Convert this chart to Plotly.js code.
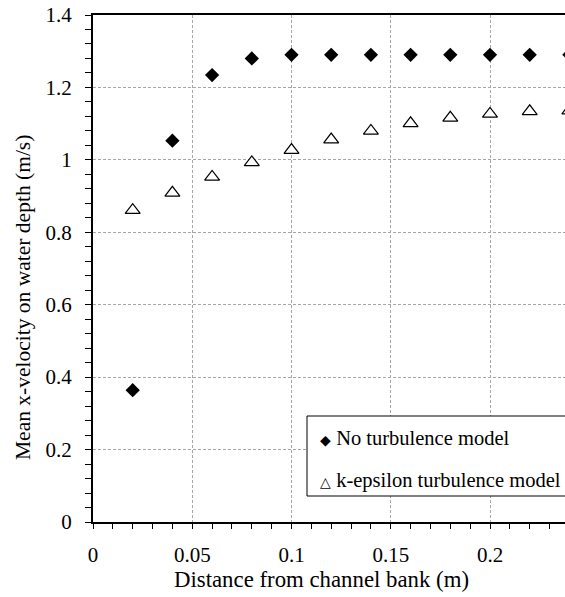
<!DOCTYPE html>
<html>
<head>
<meta charset="utf-8">
<script src="https://cdn.plot.ly/plotly-3.0.1.min.js"></script>
<style>
html, body { margin: 0; padding: 0; overflow: hidden; background: #fff; }
#chart { width: 585px; height: 597px; }
</style>
</head>
<body>
<div id="chart"></div>
<script>
// Data
const distance = [0.02, 0.04, 0.06, 0.08, 0.10, 0.12, 0.14, 0.16, 0.18, 0.20, 0.22, 0.24];
const noTurbulence = [0.364, 1.053, 1.234, 1.280, 1.290, 1.290, 1.290, 1.290, 1.290, 1.290, 1.290, 1.290];
const kEpsilon = [0.861, 0.909, 0.953, 0.993, 1.027, 1.056, 1.080, 1.101, 1.116, 1.127, 1.134, 1.136];
const seriesNames = ['No turbulence model', 'k-epsilon turbulence model'];
const xTickVals = [0, 0.05, 0.1, 0.15, 0.2];
const xTickText = ['0', '0.05', '0.1', '0.15', '0.2'];
const yTickVals = [0, 0.2, 0.4, 0.6, 0.8, 1.0, 1.2, 1.4];
const yTickText = ['0', '0.2', '0.4', '0.6', '0.8', '1', '1.2', '1.4'];
const xTitle = 'Distance from channel bank (m)';
const yTitle = 'Mean x-velocity on water depth (m/s)';

const FONT = '"Times New Roman", "Liberation Serif", serif';

const traces = [
  {
    x: distance, y: noTurbulence, name: seriesNames[0], type: 'scatter', mode: 'markers',
    marker: { symbol: 'diamond', size: 11, color: '#000', line: { width: 0 } },
    showlegend: false, cliponaxis: true
  },
  {
    x: distance, y: kEpsilon, name: seriesNames[1], type: 'scatter', mode: 'markers',
    marker: { symbol: 'triangle-up', size: 13, color: '#fff', line: { width: 1.2, color: '#000' } },
    showlegend: false, cliponaxis: true
  }
];

const W = 585, H = 597, L = 93, T = 15, B = 75;
const plotW = W - L;
const plotH = H - T - B;
const xMax = plotW / 1985;
const px = (x) => (x - L) / plotW;
const py = (y) => (H - B - y) / plotH;

const layout = {
  width: W, height: H,
  margin: { l: L, r: 0, t: T, b: B },
  paper_bgcolor: '#fff', plot_bgcolor: '#fff',
  font: { family: FONT, size: 21, color: '#000' },
  showlegend: false,
  xaxis: {
    range: [0, xMax], tickvals: xTickVals, ticktext: xTickText,
    showline: true, linecolor: '#000', linewidth: 2, mirror: true,
    ticks: 'outside', ticklen: 5, tickwidth: 1, tickcolor: '#000',
    showgrid: true, gridcolor: '#a6a6a6', gridwidth: 1, griddash: '3px,2px',
    zeroline: false, ticklabelstandoff: 8,
    tickfont: { family: FONT, size: 21, color: '#000' },
    minor: { dtick: 0.01, tick0: 0, ticks: 'outside', ticklen: 5, tickwidth: 1, tickcolor: '#000', showgrid: false }
  },
  yaxis: {
    range: [0, 1.4], tickvals: yTickVals, ticktext: yTickText,
    showline: true, linecolor: '#000', linewidth: 2, mirror: true,
    ticks: 'outside', ticklen: 6, tickwidth: 1, tickcolor: '#000',
    showgrid: true, gridcolor: '#a6a6a6', gridwidth: 1, griddash: '3px,2px',
    zeroline: false, ticklabelstandoff: 9,
    tickfont: { family: FONT, size: 21, color: '#000' },
    minor: { dtick: 0.04, tick0: 0, ticks: 'outside', ticklen: 6, tickwidth: 1, tickcolor: '#000', showgrid: false }
  },
  shapes: [
    { type: 'rect', xref: 'paper', yref: 'paper',
      x0: px(307), x1: px(590), y0: py(496), y1: py(416),
      fillcolor: '#fff', line: { color: '#000', width: 1 }, layer: 'above' }
  ],
  annotations: [
    { xref: 'paper', yref: 'paper', x: px(321), y: py(579),
      xanchor: 'center', yanchor: 'middle', showarrow: false,
      text: xTitle, font: { family: FONT, size: 22.8, color: '#000' } },
    { xref: 'paper', yref: 'paper', x: px(23), y: py(298),
      xanchor: 'center', yanchor: 'middle', showarrow: false, textangle: -90,
      text: yTitle, font: { family: FONT, size: 21.5, color: '#000' } },
    { xref: 'paper', yref: 'paper', x: px(318), y: py(438),
      xanchor: 'left', yanchor: 'middle', showarrow: false,
      text: '<span style="font-size:14px">\u25C6</span> ' + seriesNames[0],
      font: { family: FONT, size: 20.5, color: '#000' } },
    { xref: 'paper', yref: 'paper', x: px(318), y: py(480),
      xanchor: 'left', yanchor: 'middle', showarrow: false,
      text: '<span style="font-size:14px">\u25B3</span> ' + seriesNames[1],
      font: { family: FONT, size: 20.5, color: '#000' } }
  ]
};

Plotly.newPlot('chart', traces, layout, { displayModeBar: false, staticPlot: true });
</script>
</body>
</html>
